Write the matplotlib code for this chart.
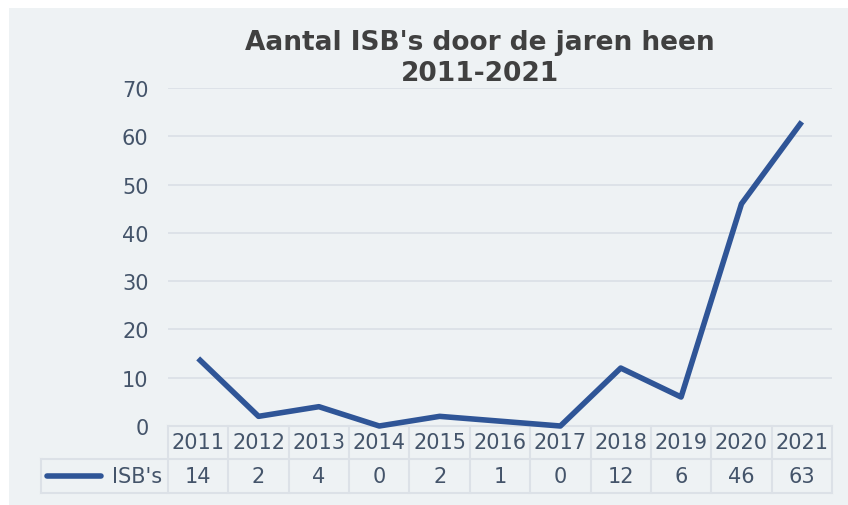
import matplotlib
matplotlib.use("Agg")
import matplotlib.pyplot as plt
from matplotlib.patches import Rectangle
from matplotlib.lines import Line2D

years = ["2011", "2012", "2013", "2014", "2015", "2016", "2017", "2018", "2019", "2020", "2021"]
isbs = [14, 2, 4, 0, 2, 1, 0, 12, 6, 46, 63]
series_name = "ISB's"
title_lines = ["Aantal ISB's door de jaren heen", "2011-2021"]

bg = "#eef2f4"
txt = "#44546a"
grid_c = "#dce1e7"
line_c = "#2f5597"
fs = 15

W, H = 848, 506
fig = plt.figure(figsize=(W / 100, H / 100), dpi=100)
fig.patches.append(Rectangle((9 / W, 0), 1, 1 - 9 / H, transform=fig.transFigure,
                             facecolor=bg, edgecolor="none", zorder=-10))

ax = fig.add_axes([168 / W, 1 - 427 / H, (832 - 168) / W, (427 - 89) / H])
ax.set_facecolor("none")
x = list(range(len(years)))
ax.plot(x, isbs, color=line_c, lw=4, solid_joinstyle="round", solid_capstyle="butt", clip_on=False, zorder=3)
ax.set_xlim(-0.5, len(years) - 0.5)
ax.set_ylim(0, 70)
ax.set_yticks(range(0, 71, 10))
ax.tick_params(axis="y", length=0, pad=14, labelsize=fs, labelcolor=txt)
ax.set_xticks([])
for s in ax.spines.values():
    s.set_visible(False)
ax.grid(axis="y", color=grid_c, lw=1.3)
ax.set_axisbelow(True)

# data table below the plot
ax_h = 427 - 89
y0 = 0
y1 = -33 / ax_h
y2 = -67 / ax_h
xl = -0.5 - 127 / ((832 - 168) / len(years))
tr = ax.get_xaxis_transform()
kw = dict(transform=tr, color=grid_c, lw=1.5, clip_on=False)
ax.add_line(Line2D([-0.5, len(years) - 0.5], [y0, y0], **kw))
ax.add_line(Line2D([xl, len(years) - 0.5], [y1, y1], **kw))
ax.add_line(Line2D([xl, len(years) - 0.5], [y2, y2], **kw))
for i in range(len(years) + 1):
    ax.add_line(Line2D([i - 0.5, i - 0.5], [y0, y2], **kw))
ax.add_line(Line2D([xl, xl], [y1, y2], **kw))
for i, (yr, v) in enumerate(zip(years, isbs)):
    ax.text(i, (y0 + y1) / 2, yr, transform=tr, ha="center", va="center", fontsize=fs, color=txt)
    ax.text(i, (y1 + y2) / 2, str(v), transform=tr, ha="center", va="center", fontsize=fs, color=txt)
# legend key in the table
ym = (y1 + y2) / 2
ax.add_line(Line2D([xl + 0.1, xl + 1.0], [ym, ym], transform=tr, color=line_c, lw=4,
                   solid_capstyle="round", clip_on=False))
ax.text(-0.6, ym, series_name, transform=tr, ha="right", va="center", fontsize=fs, color=txt)

for line, yp in zip(title_lines, [43, 74]):
    fig.text(480 / W, 1 - yp / H, line, ha="center", va="center", fontsize=19, fontweight="bold",
             color="#404040")

fig.savefig("out.png", dpi=100)
